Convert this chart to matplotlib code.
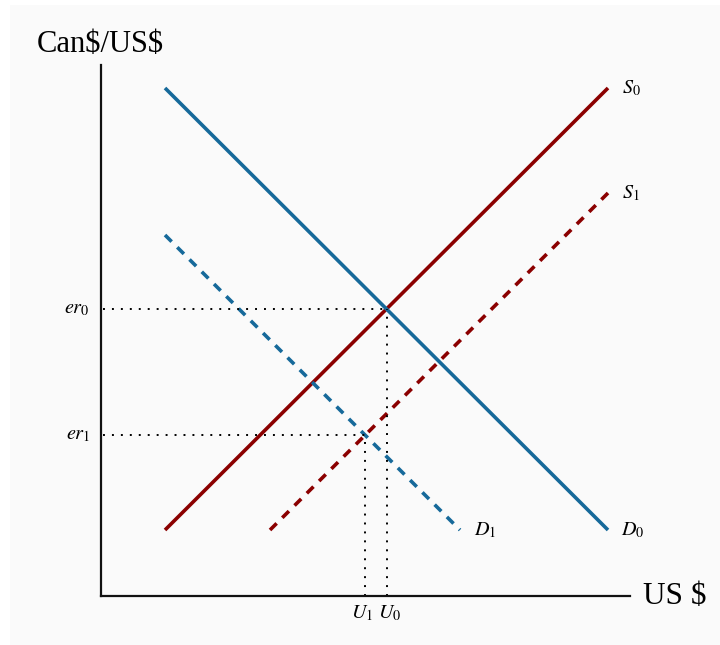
import matplotlib
matplotlib.use("Agg")
import matplotlib.pyplot as plt
from matplotlib.patches import Rectangle

plt.rcParams['mathtext.fontset'] = 'stix'
plt.rcParams['font.family'] = ['Liberation Serif', 'DejaVu Serif']

# Curves (x, y) endpoints in quantity / exchange-rate units
s0_x = [64, 507]; s0_y = [66, 508]
d0_x = [64, 507]; d0_y = [508, 66]
s1_x = [169, 507]; s1_y = [66, 403]
d1_x = [64, 359]; d1_y = [361, 66]

# Equilibria
eq0 = (286, 287)
eq1 = (264, 161)

curve_labels = {'S0': r'$S_0$', 'S1': r'$S_1$', 'D0': r'$D_0$', 'D1': r'$D_1$'}
y_labels = [r'$er_0$', r'$er_1$']
x_labels = [r'$U_1$', r'$U_0$']

W, H = 720, 645
fig = plt.figure(figsize=(W/100, H/100), dpi=100)
fig.patch.set_facecolor('white')
fig.add_artist(Rectangle((10/W, 0), 1 - 10/W, 1 - 5/H, transform=fig.transFigure,
                         facecolor='#fafafa', edgecolor='none', zorder=0))

ax = fig.add_axes([101/W, 49/H, 529/W, 531/H])
ax.set_xlim(0, 529)
ax.set_ylim(0, 531)
ax.patch.set_alpha(0)
for side in ['top', 'right']:
    ax.spines[side].set_visible(False)
for side in ['left', 'bottom']:
    ax.spines[side].set_linewidth(1.6)
    ax.spines[side].set_color('#111111')
ax.set_xticks([]); ax.set_yticks([])

blue = '#16699a'
red = '#8b0000'
lw = 2.6
ax.plot(s0_x, s0_y, color=red, lw=lw, solid_capstyle='butt')
ax.plot(d0_x, d0_y, color=blue, lw=lw, solid_capstyle='butt')
ax.plot(s1_x, s1_y, color=red, lw=lw, linestyle=(0, (2.6, 2.2)))
ax.plot(d1_x, d1_y, color=blue, lw=lw, linestyle=(0, (2.6, 2.2)))

dot = dict(color='black', lw=1.4, linestyle=(0, (1, 3.6)))
for (ex, ey) in [eq0, eq1]:
    ax.plot([2, ex], [ey, ey], **dot)
    ax.plot([ex, ex], [0, ey], **dot)

fs = 14.5
ax.text(521, 508, curve_labels['S0'], fontsize=fs, va='center', ha='left')
ax.text(521, 403, curve_labels['S1'], fontsize=fs, va='center', ha='left')
ax.text(520, 66, curve_labels['D0'], fontsize=fs, va='center', ha='left')
ax.text(373, 66, curve_labels['D1'], fontsize=fs, va='center', ha='left')
ax.text(-11, eq0[1], y_labels[0], fontsize=fs, va='center', ha='right')
ax.text(-11, eq1[1], y_labels[1], fontsize=fs, va='center', ha='right')
ax.text(eq1[0] - 3, -17, x_labels[0], fontsize=fs, va='center', ha='center')
ax.text(eq0[0] + 3, -17, x_labels[1], fontsize=fs, va='center', ha='center')

fig.text(37/W, 1 - 45/H, 'Can\\$/US\\$', fontsize=22, va='center', ha='left')
fig.text(643/W, 1 - 596/H, 'US \\$', fontsize=22.5, va='center', ha='left')

fig.savefig('out.png', dpi=100)
